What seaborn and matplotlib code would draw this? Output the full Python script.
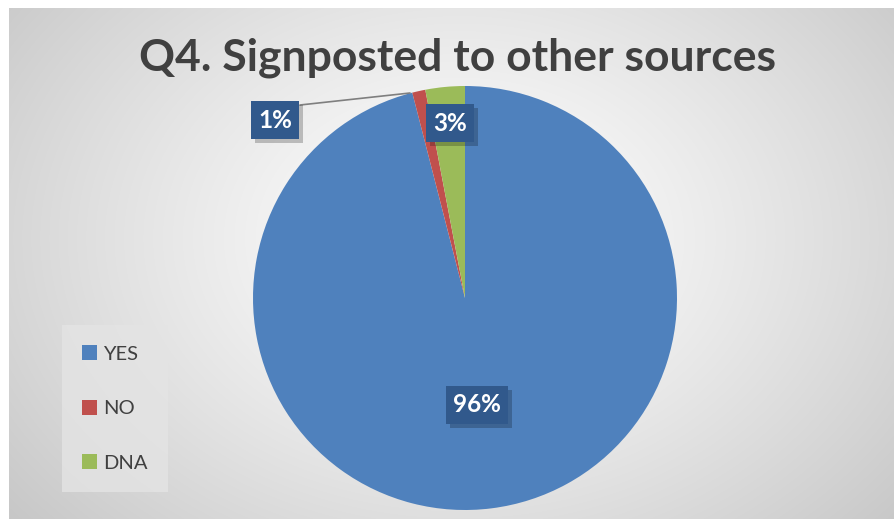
import numpy as np
import matplotlib
matplotlib.use("Agg")
import matplotlib.pyplot as plt
import matplotlib.patheffects as pe
from matplotlib.patches import Patch
import seaborn as sns

# ---- data ----
categories = ["YES", "NO", "DNA"]
values = [96, 1, 3]
pct_labels = ["96%", "1%", "3%"]
title = "Q4. Signposted to other sources"

sns.set_theme(style="white")
plt.rcParams['font.family'] = ['Lato', 'DejaVu Sans']

colors = sns.color_palette(["#4F81BD", "#C0504D", "#9BBB59"])

W, H = 895, 519
fig = plt.figure(figsize=(W / 100, H / 100), dpi=100)
fig.patch.set_facecolor("white")

# background panel with radial gradient
bg = fig.add_axes([9 / W, 0, 1 - 9 / W, 1 - 8 / H])
bg.set_axis_off()
ny, nx = 511, 886
yy, xx = np.mgrid[0:ny, 0:nx]
cx, cy = 450, 230
d = np.sqrt(((xx - cx) / 1.0) ** 2 + ((yy - cy) / 0.75) ** 2)
d = d / d.max()
g = 1.0 - 0.22 * np.clip(d, 0, 1) ** 1.25
img = np.dstack([g, g, g])
bg.imshow(img, aspect="auto", extent=[0, 1, 0, 1], origin="upper")
bg.set_xlim(0, 1)
bg.set_ylim(0, 1)

# pie axes
R = 212
pcx, pcy = 465, 298
ax = fig.add_axes([(pcx - R) / W, (H - pcy - R) / H, 2 * R / W, 2 * R / H])
ax.set_axis_off()
wedges, _ = ax.pie(values, colors=colors, startangle=90, counterclock=False,
                   radius=1.0, wedgeprops=dict(linewidth=0))
ax.set_xlim(-1, 1)
ax.set_ylim(-1, 1)

def px(xp, yp):
    return (xp - pcx) / R, (pcy - yp) / R

# leader line for 1%
x0, y0 = px(300, 105)
x1, y1 = px(410, 93)
ax.plot([x0, x1], [y0, y1], color="#7f7f7f", lw=1.2, zorder=3, clip_on=False)

label_pos = {"96%": px(477, 405), "1%": px(275, 120), "3%": px(450, 123)}
for lab in pct_labels:
    x, y = label_pos[lab]
    t = ax.text(x, y, lab, ha="center", va="center", color="white",
                fontsize=17.5, fontweight="bold", zorder=5, clip_on=False,
                bbox=dict(boxstyle="square,pad=0.3", facecolor="#31598C",
                          edgecolor="none"))
    t.get_bbox_patch().set_path_effects(
        [pe.withSimplePatchShadow(offset=(3, -3), shadow_rgbFace="#000000", alpha=0.22)])

# title
fig.text(458 / W, 1 - 58 / H, title, ha="center", va="center",
         fontsize=32, fontweight="bold", color="#404040")

# legend
handles = [Patch(facecolor=c, edgecolor="none") for c in colors]
leg = fig.legend(handles, categories, loc="upper left",
                 bbox_to_anchor=(62 / W, 1 - 325 / H),
                 frameon=True, fontsize=14.5, labelspacing=1.85,
                 handlelength=0.75, handleheight=0.75, handletextpad=0.3,
                 borderpad=1.0, borderaxespad=0, fancybox=False)
leg.get_frame().set_facecolor("#e4e4e4")
leg.get_frame().set_edgecolor("none")
for txt in leg.get_texts():
    txt.set_color("#404040")

fig.savefig("out.png", dpi=100)
